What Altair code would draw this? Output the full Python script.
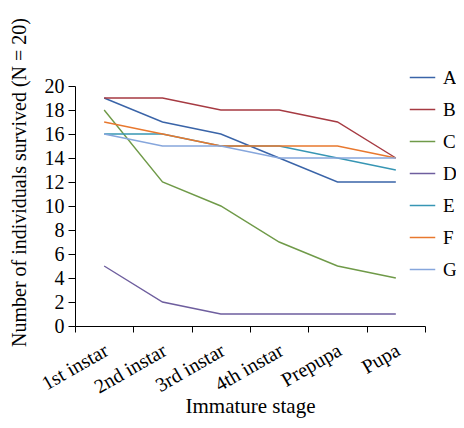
import altair as alt
import pandas as pd

stages = ["1st instar", "2nd instar", "3rd instar", "4th instar", "Prepupa", "Pupa"]
series_names = ["A", "B", "C", "D", "E", "F", "G"]
A = [19, 17, 16, 14, 12, 12]
B = [19, 19, 18, 18, 17, 14]
C = [18, 12, 10, 7, 5, 4]
D = [5, 2, 1, 1, 1, 1]
E = [16, 16, 15, 15, 14, 13]
F = [17, 16, 15, 15, 15, 14]
G = [16, 15, 15, 14, 14, 14]
colors = ["#3a64a8", "#a63a42", "#6f9a48", "#6e5e9e", "#3796b4", "#e8782e", "#86a6dc"]

rows = []
for name, vals in zip(series_names, [A, B, C, D, E, F, G]):
    for s, v in zip(stages, vals):
        rows.append({"stage": s, "series": name, "value": v})
df = pd.DataFrame(rows)

font = "Liberation Serif"

chart = alt.Chart(df).mark_line(strokeWidth=1.4).encode(
    x=alt.X("stage:N", sort=stages, scale=alt.Scale(paddingInner=0, paddingOuter=0),
            axis=alt.Axis(title="Immature stage", labelAngle=-30, labelAlign="right",
                          labelBaseline="top", tickBand="extent", labelFontSize=20,
                          titleFontSize=21, titleFontWeight="normal",
                          titleY=86, titleBaseline="alphabetic",
                          labelPadding=8, labelOffset=-3, tickSize=6)),
    y=alt.Y("value:Q", scale=alt.Scale(domain=[0, 20], nice=False),
            axis=alt.Axis(title="Number of individuals survived (N = 20)",
                          values=list(range(0, 21, 2)), labelFontSize=20,
                          titleFontSize=20, titleFontWeight="normal", tickSize=7,
                          labelPadding=4, grid=False, titleX=-50, titleY=96,
                          titleBaseline="alphabetic")),
    color=alt.Color("series:N", sort=series_names,
                    scale=alt.Scale(domain=series_names, range=colors),
                    legend=alt.Legend(title=None, orient="none", legendX=334, legendY=-22,
                                      symbolType="stroke", symbolSize=650,
                                      symbolStrokeWidth=1.5, labelFontSize=19,
                                      rowPadding=8, labelOffset=7)),
).properties(
    width=350, height=240,
    autosize=alt.AutoSizeParams(type="none"),
    padding={"left": 67, "top": 78, "right": 31, "bottom": 94},
).configure_view(stroke=None).configure_axis(
    labelFont=font, titleFont=font, labelColor="black", titleColor="black",
    domainColor="black", tickColor="black", grid=False
).configure_legend(labelFont=font, labelColor="black")

chart.save("out.html", embed_options={"renderer": "svg", "actions": False})
